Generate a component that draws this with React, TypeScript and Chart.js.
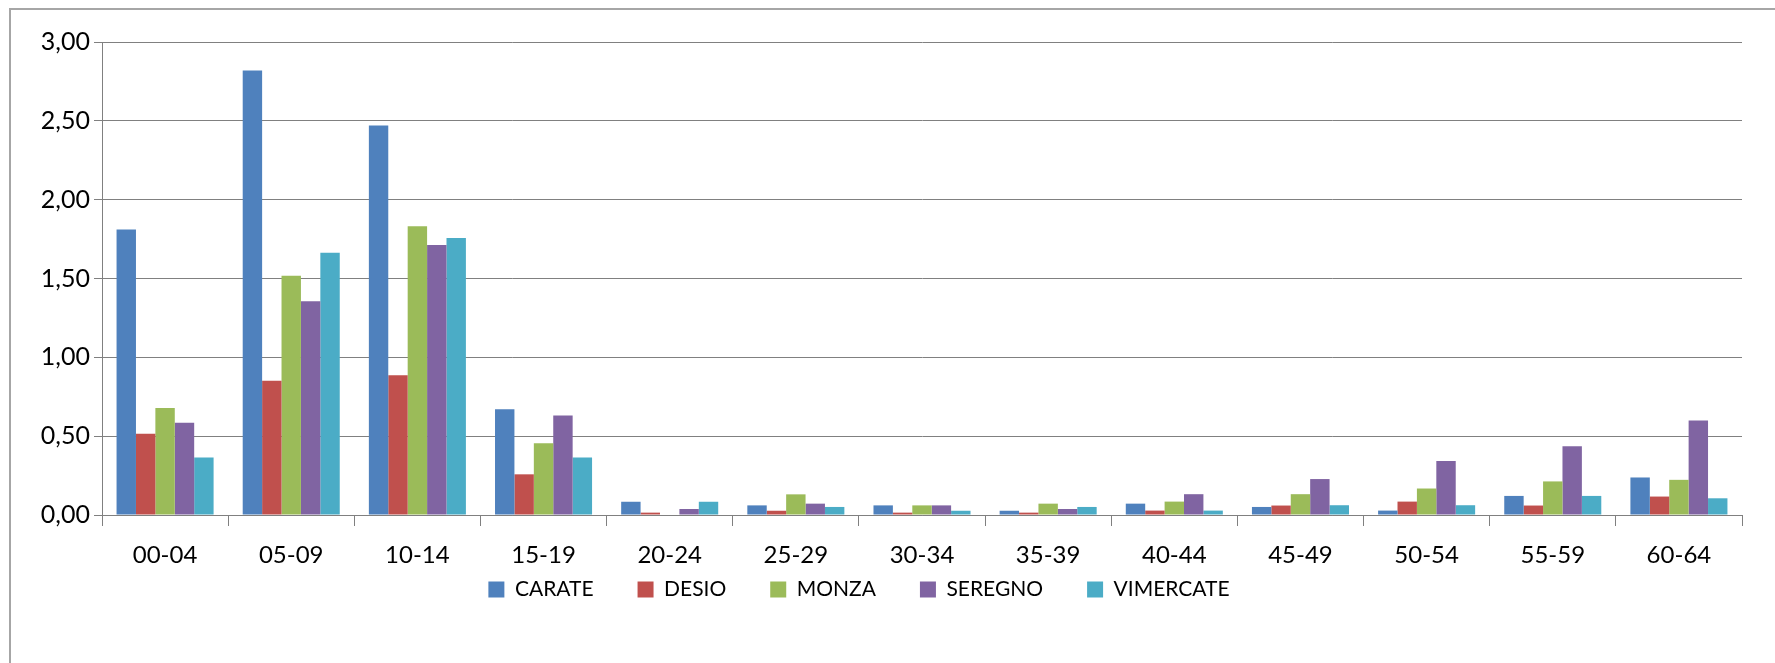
import { useEffect, useRef } from 'react';
import { Chart, registerables } from 'chart.js';
Chart.register(...registerables);

const categories = ['00-04', '05-09', '10-14', '15-19', '20-24', '25-29', '30-34', '35-39', '40-44', '45-49', '50-54', '55-59', '60-64'];
const carate = [1.81, 2.82, 2.47, 0.67, 0.084, 0.061, 0.061, 0.027, 0.072, 0.051, 0.028, 0.121, 0.238];
const desio = [0.515, 0.852, 0.886, 0.258, 0.015, 0.027, 0.015, 0.015, 0.028, 0.06, 0.085, 0.06, 0.117];
const monza = [0.678, 1.517, 1.832, 0.455, 0.003, 0.131, 0.061, 0.072, 0.085, 0.132, 0.168, 0.213, 0.223];
const seregno = [0.585, 1.355, 1.713, 0.631, 0.038, 0.072, 0.061, 0.038, 0.132, 0.228, 0.343, 0.436, 0.6];
const vimercate = [0.364, 1.664, 1.757, 0.364, 0.084, 0.051, 0.027, 0.051, 0.028, 0.062, 0.062, 0.121, 0.106];
const seriesNames = ['CARATE', 'DESIO', 'MONZA', 'SEREGNO', 'VIMERCATE'];
const seriesColors = ['#4F81BD', '#C0504D', '#9BBB59', '#8064A2', '#4BACC6'];
const yTicks = [0, 0.5, 1, 1.5, 2, 2.5, 3];

const FONT = 'Lato, "Open Sans", sans-serif';

const framePlugin = {
  id: 'frame',
  afterLayout(chart: any) {
    const lg = chart.legend;
    if (lg) {
      lg.left -= 12;
      lg.right -= 12;
      lg.top -= 28;
      lg.bottom -= 28;
    }
  },
  beforeDraw(chart: any) {
    const ctx = chart.ctx;
    ctx.save();
    ctx.fillStyle = '#ffffff';
    ctx.fillRect(0, 0, chart.width, chart.height);
    ctx.strokeStyle = '#a6a6a6';
    ctx.lineWidth = 2;
    ctx.beginPath();
    ctx.moveTo(10, chart.height);
    ctx.lineTo(10, 9);
    ctx.lineTo(chart.width, 9);
    ctx.stroke();
    ctx.restore();
  },
};

export default function App() {
  const ref = useRef<HTMLCanvasElement>(null);
  useEffect(() => {
    document.body.style.margin = '0';
    const values = [carate, desio, monza, seregno, vimercate];
    const chart = new Chart(ref.current!, {
      type: 'bar',
      data: {
        labels: categories,
        datasets: seriesNames.map((name, i) => ({
          label: name,
          data: values[i],
          backgroundColor: seriesColors[i],
          borderWidth: 0,
          categoryPercentage: 5 / 6.5,
          barPercentage: 1,
        })),
      },
      options: {
        responsive: false,
        animation: false,
        devicePixelRatio: 1,
        layout: { padding: { left: 0, top: 42, right: 33, bottom: 25 } },
        plugins: {
          tooltip: { enabled: false },
          legend: {
            position: 'bottom',
            labels: {
              boxWidth: 16,
              boxHeight: 16,
              padding: 44,
              color: '#000',
              font: { family: FONT, size: 21 },
            },
          },
        },
        scales: {
          x: {
            grid: { drawOnChartArea: false, drawTicks: true, tickLength: 11, color: '#808080', offset: true },
            border: { color: '#808080', width: 1 },
            ticks: { color: '#000', font: { family: FONT, size: 24 }, padding: 15, maxRotation: 0, autoSkip: false },
            afterFit: (s: any) => { s.height = 48; },
          },
          y: {
            min: 0,
            max: 3,
            afterBuildTicks: (s: any) => { s.ticks = yTicks.map((v) => ({ value: v })); },
            grid: { color: '#808080', tickLength: 8 },
            border: { color: '#808080', width: 1 },
            ticks: {
              color: '#000',
              font: { family: FONT, size: 25 },
              padding: 4,
              callback: (v: any) => Number(v).toFixed(2).replace('.', ','),
            },
            afterFit: (s: any) => { s.width = 102; },
          },
        },
      },
      plugins: [framePlugin],
    });
    return () => chart.destroy();
  }, []);
  return (
    <div style={{ width: 1775, height: 663 }}>
      <canvas ref={ref} width={1775} height={663} />
    </div>
  );
}
